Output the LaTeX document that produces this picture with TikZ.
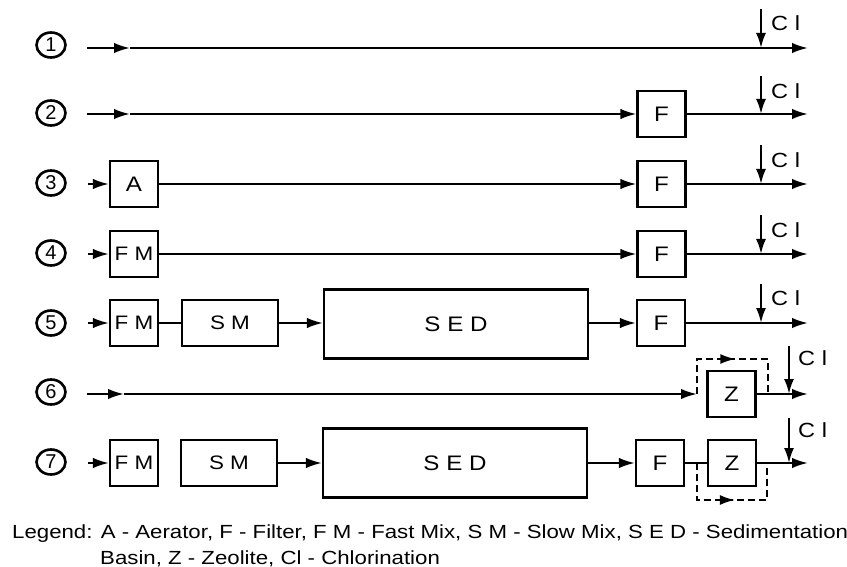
\documentclass[tikz,border=0pt]{standalone}
\usepackage{fontspec}
\setmainfont{Liberation Sans}
\newfontfamily\wide[FakeStretch=1.15]{Liberation Sans}
\newfontfamily\legfont[FakeStretch=1.17]{Liberation Sans}
\usetikzlibrary{arrows.meta,decorations.markings,shapes.geometric}
\begin{document}
\begin{tikzpicture}[x=1pt,y=-1pt,
  tip/.style={-{Latex[length=16pt,width=10.5pt]}},
  flow/.style={line width=2.2pt,tip},
  plain/.style={line width=2.2pt},
  box/.style={draw,line width=2.2pt,minimum width=48pt,minimum height=46pt,inner sep=0pt,font=\wide\fontsize{21}{21}\selectfont},
  fmbox/.style={box,font=\wide\fontsize{19.5}{19.5}\selectfont},
  bigbox/.style={box,minimum width=264pt,minimum height=69pt},
  smbox/.style={fmbox,minimum width=96pt},
  num/.style={ellipse,draw,line width=2.6pt,minimum width=29pt,minimum height=25pt,inner sep=0pt,font=\fontsize{20}{20}\selectfont},
  cl/.style={line width=2.2pt,-{Latex[length=15pt,width=10pt]}},
  cltext/.style={font=\wide\fontsize{20.5}{20.5}\selectfont,anchor=west,inner sep=0pt},
  bypass/.style={line width=1.8pt,dash pattern=on 7pt off 4pt,
    postaction={decorate},decoration={markings,mark=at position 0.52 with {\arrow{Latex[length=15pt,width=10pt]}}}}
]
\useasboundingbox (0,0) rectangle (847,567);

% circled numbers
\node[num] (n1) at (51,45) {1};
\node[num] (n2) at (51,113) {2};
\node[num] (n3) at (51,183) {3};
\node[num] (n4) at (51,253) {4};
\node[num] (n5) at (51,323) {5};
\node[num] (n6) at (51,392) {6};
\node[num] (n7) at (51,462) {7};

% Row 1
\coordinate (s1) at (87,48);
\coordinate (m1) at (130,48);
\coordinate (e1) at (808,48);
\draw[flow] (s1) -- (m1);
\draw[flow] (m1) -- (e1);
\coordinate (c1t) at (761,9);
\coordinate (c1b) at (761,48);
\draw[cl] (c1t) -- (c1b);
\node[cltext] (t1) at (771,23) {C l};

% Row 2
\coordinate (s2) at (87,114);
\coordinate (m2) at (130,114);
\node[box] (F2) at (661.5,114) {F};
\coordinate (e2) at (808,114);
\draw[flow] (s2) -- (m2);
\draw[flow] (m2) -- (F2.west);
\draw[flow] (F2.east) -- (e2);
\coordinate (c2t) at (761,76);
\coordinate (c2b) at (761,114);
\draw[cl] (c2t) -- (c2b);
\node[cltext] (t2) at (771,91) {C l};

% Row 3
\coordinate (s3) at (88,184);
\node[box] (A3) at (134,184) {A};
\node[box] (F3) at (661.5,184) {F};
\coordinate (e3) at (808,184);
\draw[flow] (s3) -- (A3.west);
\draw[flow] (A3.east) -- (F3.west);
\draw[flow] (F3.east) -- (e3);
\coordinate (c3t) at (761,145);
\coordinate (c3b) at (761,184);
\draw[cl] (c3t) -- (c3b);
\node[cltext] (t3) at (771,160) {C l};

% Row 4
\coordinate (s4) at (88,254);
\node[fmbox] (FM4) at (134,254) {F M};
\node[box] (F4) at (661.5,254) {F};
\coordinate (e4) at (808,254);
\draw[flow] (s4) -- (FM4.west);
\draw[flow] (FM4.east) -- (F4.west);
\draw[flow] (F4.east) -- (e4);
\coordinate (c4t) at (761,215);
\coordinate (c4b) at (761,254);
\draw[cl] (c4t) -- (c4b);
\node[cltext] (t4) at (771,230) {C l};

% Row 5
\coordinate (s5) at (88,323);
\node[fmbox] (FM5) at (134,323) {F M};
\node[smbox] (SM5) at (230,323) {S M};
\node[bigbox] (SED5) at (456,324) {S E D};
\node[box] (F5) at (661,323) {F};
\coordinate (e5) at (808,323);
\draw[flow] (s5) -- (FM5.west);
\draw[plain] (FM5.east) -- (SM5.west);
\draw[flow] (SM5.east) -- (SM5.east -| SED5.west);
\draw[flow] (F5.west -| SED5.east) -- (F5.west);
\draw[flow] (F5.east) -- (e5);
\coordinate (c5t) at (761,284);
\coordinate (c5b) at (761,323);
\draw[cl] (c5t) -- (c5b);
\node[cltext] (t5) at (771,298) {C l};

% Row 6
\coordinate (s6) at (87,394);
\coordinate (m6) at (124,394);
\coordinate (j6) at (697,394);
\node[box] (Z6) at (731.5,394) {Z};
\coordinate (e6) at (808,394);
\coordinate (b6a) at (697,359);
\coordinate (b6b) at (768,359);
\coordinate (k6) at (768,394);
\draw[flow] (s6) -- (m6);
\draw[flow] (m6) -- (j6);
\draw[bypass] (j6) -- (b6a) -- (b6b) -- (k6);
\draw[flow] (Z6.east) -- (e6);
\coordinate (c6t) at (789,346);
\coordinate (c6b) at (789,394);
\draw[cl] (c6t) -- (c6b);
\node[cltext] (t6) at (798,358) {C l};

% Row 7
\coordinate (s7) at (88,463);
\node[fmbox] (FM7) at (134,463) {F M};
\node[smbox] (SM7) at (229,463) {S M};
\node[bigbox] (SED7) at (455,463) {S E D};
\node[box] (F7) at (660,463) {F};
\node[box] (Z7) at (732,463) {Z};
\coordinate (e7) at (808,463);
\coordinate (j7) at (697,463);
\coordinate (b7a) at (697,500);
\coordinate (b7b) at (767,500);
\coordinate (k7) at (767,463);
\draw[flow] (s7) -- (FM7.west);
\draw[flow] (SM7.east) -- (SED7.west);
\draw[flow] (SED7.east) -- (F7.west);
\draw[plain] (F7.east) -- (Z7.west);
\draw[flow] (Z7.east) -- (e7);
\draw[bypass] (j7) -- (b7a) -- (b7b) -- (k7);
\coordinate (c7t) at (789,418);
\coordinate (c7b) at (789,463);
\draw[cl] (c7t) -- (c7b);
\node[cltext] (t7) at (798,430) {C l};

% Legend
\node[anchor=west,inner sep=0pt,font=\legfont\fontsize{19}{19}\selectfont] (leg1) at (12,534)
  {Legend: A - Aerator, F - Filter, F M - Fast Mix, S M - Slow Mix, S E D - Sedimentation};
\node[anchor=west,inner sep=0pt,font=\legfont\fontsize{19}{19}\selectfont] (leg2) at (100,559)
  {Basin, Z - Zeolite, Cl - Chlorination};
\end{tikzpicture}
\end{document}
